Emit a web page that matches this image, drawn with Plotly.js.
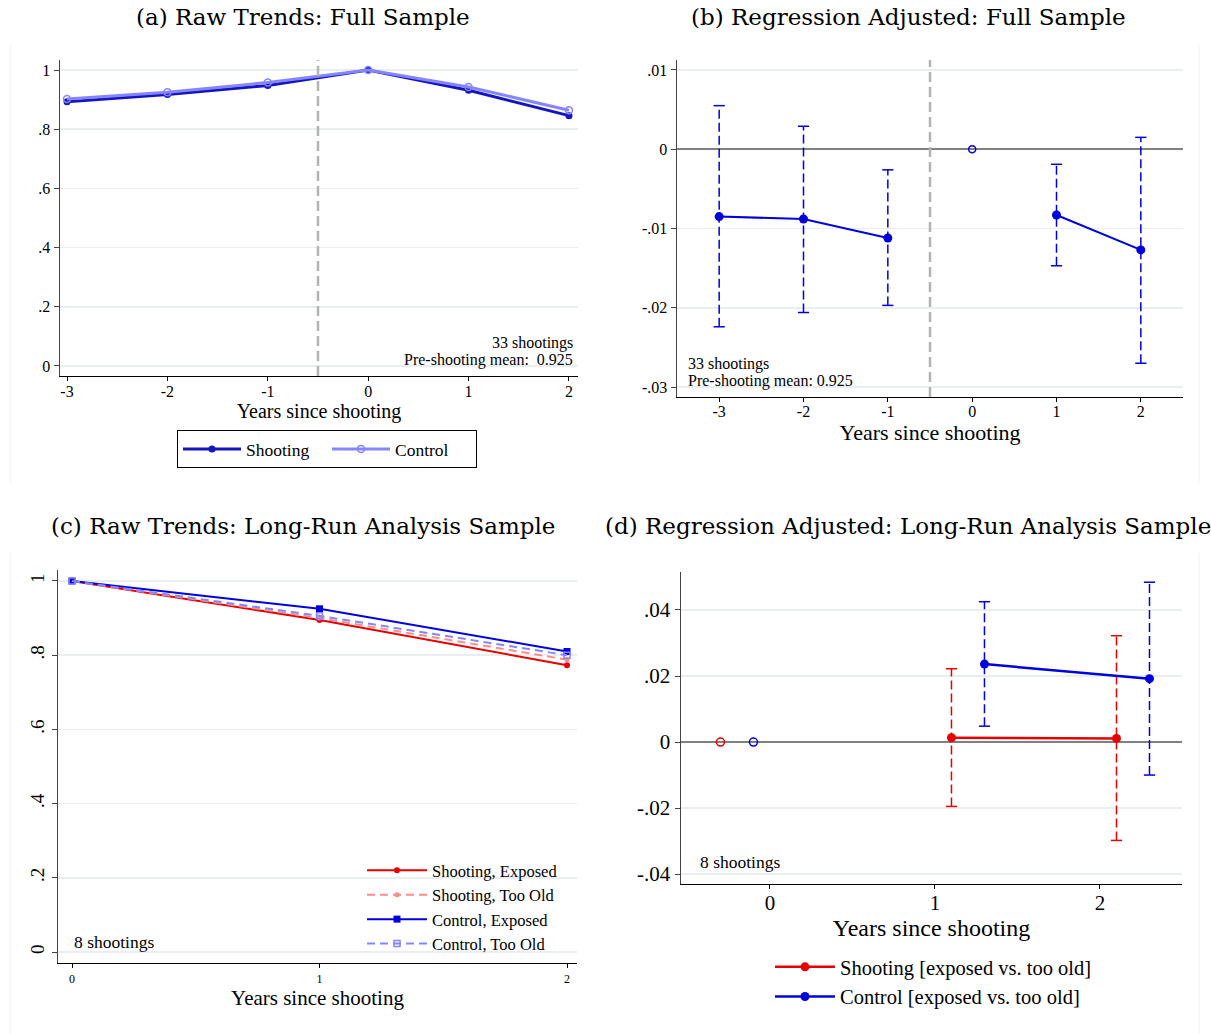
<!DOCTYPE html>
<html>
<head>
<meta charset="utf-8">
<script src="https://cdn.plot.ly/plotly-3.0.1.min.js"></script>
<style>html,body{margin:0;padding:0;background:#fff;} #chart{width:1211px;height:1034px;}</style>
</head>
<body>
<div id="chart"></div>
<script>
// ---------- data ----------
// (a) Raw trends, full sample
const yearsA = [-3, -2, -1, 0, 1, 2];
const shootingA = [0.893, 0.917, 0.948, 1.000, 0.932, 0.846];
const controlA = [0.902, 0.925, 0.958, 1.000, 0.943, 0.864];
const tickValsA = [0, 0.2, 0.4, 0.6, 0.8, 1];
const tickTextA = ['0', '.2', '.4', '.6', '.8', '1'];
const xTickTextA = ['-3', '-2', '-1', '0', '1', '2'];

// (b) Regression adjusted, full sample
const yearsB = [-3, -2, -1, 0, 1, 2];
const coefB = [-0.0085, -0.0088, -0.0112, null, -0.0083, -0.0127];
const ciLoB = [-0.0224, -0.0206, -0.0197, null, -0.0147, -0.0270];
const ciHiB = [0.0055, 0.0029, -0.0026, null, -0.0019, 0.0015];
const refYearB = [0];
const refCoefB = [0];
const tickValsB = [0.01, 0, -0.01, -0.02, -0.03];
const tickTextB = ['.01', '0', '-.01', '-.02', '-.03'];

// (c) Raw trends, long-run analysis sample
const yearsC = [0, 1, 2];
const shootExpC = [1.000, 0.895, 0.773];
const shootOldC = [1.000, 0.900, 0.788];
const ctrlExpC = [1.000, 0.925, 0.810];
const ctrlOldC = [1.000, 0.906, 0.800];
const tickValsC = [0, 0.2, 0.4, 0.6, 0.8, 1];
const tickTextC = ['0', '.2', '.4', '.6', '.8', '1'];
const xTickTextC = ['0', '1', '2'];

// (d) Regression adjusted, long-run analysis sample
const shootXD = [1.1, 2.1];
const shootCoefD = [0.0013, 0.0011];
const shootLoD = [-0.0195, -0.0298];
const shootHiD = [0.0222, 0.0322];
const shootRefXD = [-0.3];
const ctrlXD = [1.3, 2.3];
const ctrlCoefD = [0.0236, 0.0192];
const ctrlLoD = [0.0048, -0.0100];
const ctrlHiD = [0.0425, 0.0484];
const ctrlRefXD = [-0.1];
const refCoefD = [0];
const tickValsD = [0.04, 0.02, 0, -0.02, -0.04];
const tickTextD = ['.04', '.02', '0', '-.02', '-.04'];
const xTickValsD = [0, 1, 2];

// ---------- styling helpers ----------
const W = 1211, H = 1034;
const X = px => px / W;
const Y = py => 1 - py / H;
const FONT = 'Liberation Serif, Times New Roman, serif';
const TFONT = 'DejaVu Serif, Liberation Serif, serif';
const GRID = '#e9eff0';

const darkBlue = '#1515c0';
const lightBlue = '#8585ff';
const blue = '#0000dd';
const red = '#e60000';
const lightRed = '#ff8c8c';

function ciLines(xs, lo, hi, color, xa, ya) {
  const x = [], y = [];
  xs.forEach((v, i) => {
    if (lo[i] == null || hi[i] == null) return;
    x.push(v, v, null);
    y.push(lo[i], hi[i], null);
  });
  return {type: 'scatter', mode: 'lines', x, y, xaxis: xa, yaxis: ya,
    line: {color, width: 1.5, dash: '9px,4px'}, showlegend: false, hoverinfo: 'skip'};
}
function ciCaps(xs, lo, hi, color, xa, ya) {
  const x = [], y = [];
  xs.forEach((v, i) => {
    if (lo[i] == null || hi[i] == null) return;
    x.push(v, v);
    y.push(lo[i], hi[i]);
  });
  return {type: 'scatter', mode: 'markers', x, y, xaxis: xa, yaxis: ya,
    marker: {symbol: 'line-ew', size: 8, color, line: {color, width: 1.5}},
    showlegend: false, hoverinfo: 'skip'};
}

const traces = [];
// (a)
traces.push({type: 'scatter', mode: 'lines+markers', name: 'Shooting', x: yearsA, y: shootingA,
  xaxis: 'x', yaxis: 'y', legend: 'legend',
  line: {color: darkBlue, width: 3}, marker: {symbol: 'circle', size: 7, color: darkBlue}});
traces.push({type: 'scatter', mode: 'lines+markers', name: 'Control', x: yearsA, y: controlA,
  xaxis: 'x', yaxis: 'y', legend: 'legend',
  line: {color: lightBlue, width: 3}, marker: {symbol: 'circle-open', size: 7, color: lightBlue, line: {width: 1.5}}});

// (b)
traces.push(ciLines(yearsB, ciLoB, ciHiB, blue, 'x2', 'y2'));
traces.push(ciCaps(yearsB, ciLoB, ciHiB, blue, 'x2', 'y2'));
traces.push({type: 'scatter', mode: 'lines+markers', x: yearsB, y: coefB, xaxis: 'x2', yaxis: 'y2',
  connectgaps: false, showlegend: false,
  line: {color: blue, width: 2}, marker: {symbol: 'circle', size: 9, color: blue}});
traces.push({type: 'scatter', mode: 'markers', x: refYearB, y: refCoefB, xaxis: 'x2', yaxis: 'y2',
  showlegend: false, marker: {symbol: 'circle-open', size: 7, color: blue, line: {width: 1.5}}});

// (c)
traces.push({type: 'scatter', mode: 'lines+markers', name: 'Shooting, Exposed', x: yearsC, y: shootExpC,
  xaxis: 'x3', yaxis: 'y3', legend: 'legend2',
  line: {color: red, width: 2}, marker: {symbol: 'circle', size: 6, color: red}});
traces.push({type: 'scatter', mode: 'lines+markers', name: 'Shooting, Too Old', x: yearsC, y: shootOldC,
  xaxis: 'x3', yaxis: 'y3', legend: 'legend2',
  line: {color: lightRed, width: 2, dash: '8px,5px'}, marker: {symbol: 'circle', size: 5, color: lightRed}});
traces.push({type: 'scatter', mode: 'lines+markers', name: 'Control, Exposed', x: yearsC, y: ctrlExpC,
  xaxis: 'x3', yaxis: 'y3', legend: 'legend2',
  line: {color: blue, width: 2}, marker: {symbol: 'square', size: 7, color: blue}});
traces.push({type: 'scatter', mode: 'lines+markers', name: 'Control, Too Old', x: yearsC, y: ctrlOldC,
  xaxis: 'x3', yaxis: 'y3', legend: 'legend2',
  line: {color: lightBlue, width: 2, dash: '8px,5px'}, marker: {symbol: 'square-open', size: 6, color: lightBlue, line: {width: 1.5}}});

// (d)
traces.push(ciLines(shootXD, shootLoD, shootHiD, red, 'x4', 'y4'));
traces.push(ciCaps(shootXD, shootLoD, shootHiD, red, 'x4', 'y4'));
traces.push(ciLines(ctrlXD, ctrlLoD, ctrlHiD, blue, 'x4', 'y4'));
traces.push(ciCaps(ctrlXD, ctrlLoD, ctrlHiD, blue, 'x4', 'y4'));
traces.push({type: 'scatter', mode: 'lines+markers', name: 'Shooting [exposed vs. too old]', x: shootXD, y: shootCoefD,
  xaxis: 'x4', yaxis: 'y4', legend: 'legend3',
  line: {color: red, width: 2.5}, marker: {symbol: 'circle', size: 9, color: red}});
traces.push({type: 'scatter', mode: 'lines+markers', name: 'Control [exposed vs. too old]', x: ctrlXD, y: ctrlCoefD,
  xaxis: 'x4', yaxis: 'y4', legend: 'legend3',
  line: {color: blue, width: 2.5}, marker: {symbol: 'circle', size: 9, color: blue}});
traces.push({type: 'scatter', mode: 'markers', x: shootRefXD, y: refCoefD, xaxis: 'x4', yaxis: 'y4',
  showlegend: false, marker: {symbol: 'circle-open', size: 8, color: red, line: {width: 1.5}}});
traces.push({type: 'scatter', mode: 'markers', x: ctrlRefXD, y: refCoefD, xaxis: 'x4', yaxis: 'y4',
  showlegend: false, marker: {symbol: 'circle-open', size: 8, color: blue, line: {width: 1.5}}});

function xAxis(domain, range, tickvals, ticktext, anchor, tfs, titleSize, standoff, labelShift) {
  return {domain, range, tickvals, ticktext, anchor, showgrid: false, zeroline: false,
    showline: true, linecolor: '#000', linewidth: 1.2, ticks: 'outside', ticklen: 4, tickcolor: '#000',
    ticklabelstandoff: labelShift || 0,
    tickfont: {family: FONT, size: tfs, color: '#000'},
    title: {text: 'Years since shooting', font: {family: FONT, size: titleSize, color: '#000'}, standoff}};
}
function yAxis(domain, range, tickvals, ticktext, anchor, tfs, extra) {
  return Object.assign({domain, range, tickvals, ticktext, anchor, showgrid: true, gridcolor: GRID, gridwidth: 1.5,
    zeroline: false, showline: true, linecolor: '#444', linewidth: 1.5, ticks: 'outside', ticklen: 5, tickcolor: '#444',
    tickfont: {family: FONT, size: tfs, color: '#000'}}, extra || {});
}

const ann = (text, xpx, ypx, size, xanchor, font) => ({text, x: X(xpx), y: Y(ypx), xref: 'paper', yref: 'paper',
  xanchor, yanchor: 'middle', showarrow: false, font: {family: font || FONT, size, color: '#000'}});

const layout = {
  width: W, height: H, margin: {l: 0, r: 0, t: 0, b: 0},
  paper_bgcolor: '#fff', plot_bgcolor: '#fff', showlegend: true,
  xaxis: xAxis([X(60), X(578)], [-3.07, 2.09], yearsA, xTickTextA, 'y', 16, 20, 0, -3),
  yaxis: yAxis([Y(376), Y(60)], [-0.034, 1.034], tickValsA, tickTextA, 'x', 16),
  xaxis2: xAxis([X(677), X(1183)], [-3.5, 2.5], yearsB, xTickTextA, 'y2', 16, 22, 0, -4),
  yaxis2: yAxis([Y(397), Y(60)], [-0.03126, 0.01126], tickValsB, tickTextB, 'x2', 16,
    {zeroline: true, zerolinecolor: '#808080', zerolinewidth: 2}),
  xaxis3: xAxis([X(58), X(577)], [-0.0566, 2.0404], yearsC, xTickTextC, 'y3', 12, 21, 4, 0),
  yaxis3: yAxis([Y(963), Y(570)], [-0.0296, 1.0296], tickValsC, tickTextC, 'x3', 19, {tickangle: -90}),
  xaxis4: xAxis([X(681), X(1182)], [-0.539, 2.497], xTickValsD, xTickTextC, 'y4', 21, 24, 0, -4),
  yaxis4: yAxis([Y(884), Y(572)], [-0.043, 0.0515], tickValsD, tickTextD, 'x4', 21,
    {zeroline: true, zerolinecolor: '#808080', zerolinewidth: 2}),
  legend: {x: X(177), y: Y(430), xanchor: 'left', yanchor: 'top', orientation: 'h',
    bordercolor: '#000', borderwidth: 1, bgcolor: '#fff', itemwidth: 58, entrywidth: 76, entrywidthmode: 'pixels',
    font: {family: FONT, size: 17.5, color: '#000'}},
  legend2: {x: X(362), y: Y(853), xanchor: 'left', yanchor: 'top', orientation: 'v',
    bgcolor: 'rgba(0,0,0,0)', itemwidth: 60, font: {family: FONT, size: 16.5, color: '#000'}},
  legend3: {x: X(770), y: Y(947), xanchor: 'left', yanchor: 'top', orientation: 'v',
    bgcolor: 'rgba(0,0,0,0)', itemwidth: 60, font: {family: FONT, size: 20.5, color: '#000'}},
  shapes: [
    {type: 'line', xref: 'x', yref: 'y domain', x0: -0.5, x1: -0.5, y0: 0, y1: 1,
      line: {color: '#b4b4b4', width: 2.5, dash: '10px,5px'}},
    {type: 'line', xref: 'x2', yref: 'y2 domain', x0: -0.5, x1: -0.5, y0: 0, y1: 1,
      line: {color: '#b4b4b4', width: 2.5, dash: '10px,5px'}},
    {type: 'line', xref: 'paper', yref: 'paper', x0: X(10), x1: X(10), y0: Y(483), y1: Y(45), line: {color: '#f0f0f0', width: 1}},
    {type: 'line', xref: 'paper', yref: 'paper', x0: X(10), x1: X(10), y0: Y(1034), y1: Y(553), line: {color: '#f0f0f0', width: 1}},
    {type: 'line', xref: 'paper', yref: 'paper', x0: X(1199), x1: X(1199), y0: Y(483), y1: Y(45), line: {color: '#f0f0f0', width: 1}},
    {type: 'line', xref: 'paper', yref: 'paper', x0: X(1199), x1: X(1199), y0: Y(1034), y1: Y(553), line: {color: '#f0f0f0', width: 1}}
  ],
  annotations: [
    ann('(a) Raw Trends: Full Sample', 303, 17, 23, 'center', TFONT),
    ann('(b) Regression Adjusted: Full Sample', 908, 17, 23, 'center', TFONT),
    ann('(c) Raw Trends: Long-Run Analysis Sample', 303, 526, 23, 'center', TFONT),
    ann('(d) Regression Adjusted: Long-Run Analysis Sample', 908, 526, 23, 'center', TFONT),
    ann('33 shootings', 575, 343, 16, 'right'),
    ann('Pre-shooting mean:&nbsp;&nbsp;0.925', 575, 360, 16, 'right'),
    ann('33 shootings', 686, 364, 16, 'left'),
    ann('Pre-shooting mean: 0.925', 686, 381, 16, 'left'),
    ann('8 shootings', 72, 942, 17.5, 'left'),
    ann('8 shootings', 698, 862, 17.5, 'left')
  ]
};

Plotly.newPlot('chart', traces, layout, {staticPlot: true, displayModeBar: false});
</script>
</body>
</html>
